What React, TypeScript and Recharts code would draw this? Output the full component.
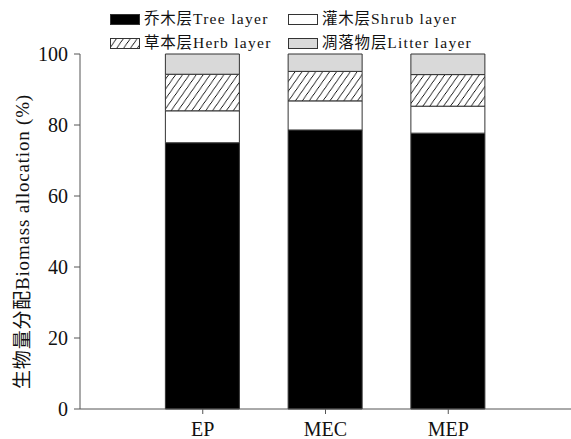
import React from "react";
import { BarChart, Bar, XAxis, YAxis } from "recharts";

// 数据 (percent of total biomass)
const SITES = ["EP", "MEC", "MEP"];
const SITE_POS = [1, 2, 3];
const TREE = [75.0, 78.6, 77.7];
const SHRUB = [9.0, 8.2, 7.6];
const HERB = [10.3, 8.3, 8.9];
const LITTER = [5.7, 4.9, 5.8];
const Y_TICKS = [0, 20, 40, 60, 80, 100];

const FONT = '"Liberation Serif", "Times New Roman", "Noto Sans CJK SC", serif';
const AXIS = "#555";
const EDGE = "#333";
const GRAY = "#d9d9d9";

const data = SITES.map((name, i) => ({
  name,
  x: SITE_POS[i],
  tree: TREE[i],
  shrub: SHRUB[i],
  herb: HERB[i],
  litter: LITTER[i],
}));

function Swatch({ fill }: { fill: string }) {
  return (
    <svg width={30} height={11} style={{ display: "block" }}>
      <rect x={0.5} y={0.5} width={29} height={10} fill={fill} stroke={EDGE} strokeWidth={1} />
    </svg>
  );
}

const LEGEND = [
  { zh: "乔木层", en: "Tree layer", fill: "#000", left: 110, top: 13 },
  { zh: "灌木层", en: "Shrub layer", fill: "#fff", left: 288, top: 13 },
  { zh: "草本层", en: "Herb layer", fill: "url(#hatch)", left: 110, top: 37 },
  { zh: "凋落物层", en: "Litter layer", fill: GRAY, left: 288, top: 37 },
];

function YLabel(props: any) {
  const vb = props.viewBox || { x: 0, y: 54, width: 80, height: 355 };
  const cx = 22;
  const cy = vb.y + vb.height / 2 + 10;
  return (
    <text
      x={cx}
      y={cy}
      transform={`rotate(-90, ${cx}, ${cy})`}
      textAnchor="middle"
      dominantBaseline="central"
      fill="#111"
      fontSize={19}
      fontFamily={FONT}
      letterSpacing={0.8}
    >
      生物量分配Biomass allocation (%)
    </text>
  );
}

export default function App() {
  return (
    <div style={{ position: "absolute", left: 0, top: 0, width: 571, height: 439, background: "#fff", fontFamily: FONT }}>
      <svg width={0} height={0} style={{ position: "absolute" }}>
        <defs>
          <pattern id="hatch" patternUnits="userSpaceOnUse" width={8} height={8} patternTransform="rotate(-10)">
            <rect width={8} height={8} fill="#fff" />
            <path d="M-2,2 l4,-4 M0,8 l8,-8 M6,10 l4,-4" stroke="#000" strokeWidth={1} />
          </pattern>
        </defs>
      </svg>

      {LEGEND.map((it) => (
        <div
          key={it.en}
          style={{ position: "absolute", left: it.left, top: it.top, display: "flex", alignItems: "center", gap: 4, fontSize: 15.5, lineHeight: "12px", color: "#111" }}
        >
          <Swatch fill={it.fill} />
          <span style={{ whiteSpace: "nowrap" }}>
            <span style={{ letterSpacing: 0.8 }}>{it.zh}</span>
            <span style={{ letterSpacing: 1.3 }}>{it.en}</span>
          </span>
        </div>
      ))}

      <BarChart width={571} height={439} data={data} margin={{ top: 54, right: 0, bottom: 0, left: 0 }}>
        <XAxis
          dataKey="x"
          type="number"
          domain={[0, 4]}
          ticks={SITE_POS}
          tickFormatter={(v: number) => SITES[SITE_POS.indexOf(v)] ?? ""}
          height={30}
          stroke={AXIS}
          tickSize={5}
          tick={{ fill: "#111", fontSize: 20, fontFamily: FONT }}
          tickMargin={8}
        />
        <YAxis
          type="number"
          domain={[0, 100]}
          ticks={Y_TICKS}
          width={80}
          stroke={AXIS}
          tickSize={6}
          tickMargin={6}
          tick={{ fill: "#111", fontSize: 20, fontFamily: FONT }}
          label={<YLabel />}
        />
        <Bar dataKey="tree" stackId="a" fill="#000" stroke={EDGE} strokeWidth={1} barSize={74} isAnimationActive={false} />
        <Bar dataKey="shrub" stackId="a" fill="#fff" stroke={EDGE} strokeWidth={1} barSize={74} isAnimationActive={false} />
        <Bar dataKey="herb" stackId="a" fill="url(#hatch)" stroke={EDGE} strokeWidth={1} barSize={74} isAnimationActive={false} />
        <Bar dataKey="litter" stackId="a" fill={GRAY} stroke={EDGE} strokeWidth={1} barSize={74} isAnimationActive={false} />
      </BarChart>
    </div>
  );
}
